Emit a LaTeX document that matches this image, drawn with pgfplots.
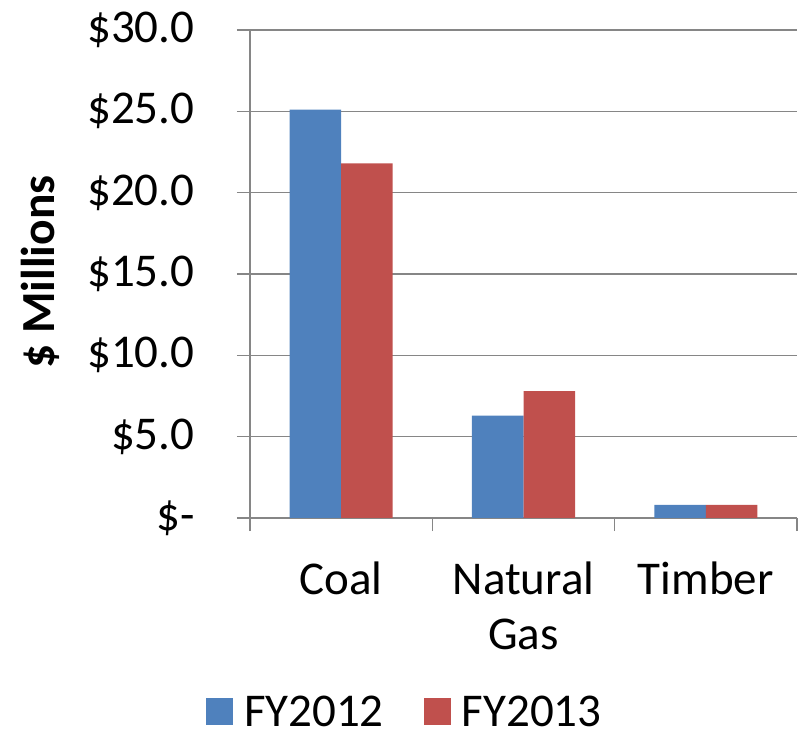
\documentclass[border=0pt]{standalone}
\usepackage{fontspec}
\setmainfont{Carlito}
\usepackage{pgfplots}
\pgfplotsset{compat=1.18}
\definecolor{fyblue}{HTML}{4F81BD}
\definecolor{fyred}{HTML}{C0504D}
\definecolor{gridgray}{HTML}{868686}
\begin{document}
\begin{tikzpicture}
\useasboundingbox (0,0) rectangle (802pt,738pt);
\begin{axis}[
  at={(250pt,220pt)}, anchor=south west,
  scale only axis, width=547pt, height=488pt,
  ybar=0pt, bar width=0.2825,
  xmin=-0.5, xmax=2.5, ymin=0, ymax=30,
  axis x line*=bottom, axis y line*=left,
  xtick={-0.5,0.5,1.5,2.5}, xticklabels={},
  extra x ticks={0,1,2},
  extra x tick labels={Coal,Natural\\Gas,Timber},
  extra x tick style={major tick length=0pt},
  ytick={0,5,10,15,20,25,30},
  yticklabels={\$-\hspace{21pt},\$5.0,\$10.0,\$15.0,\$20.0,\$25.0,\$30.0},
  tick align=outside, major tick length=13pt,
  ymajorgrids=true,
  axis line style={gridgray, line width=1.2pt},
  tick style={gridgray, line width=1.2pt},
  major grid style={gridgray, line width=1.2pt},
  yticklabel style={font=\fontsize{47pt}{56pt}\selectfont, anchor=east, xshift=-39pt},
  xticklabel style={font=\fontsize{47pt}{55pt}\selectfont, align=center, yshift=-40pt},
  ylabel={\textbf{\$ Millions}},
  ylabel style={font=\fontsize{47.5pt}{56pt}\selectfont, at={(axis description cs:-0.384,0.504)}, anchor=center},
  legend columns=2,
  legend style={draw=none, fill=none, inner sep=0pt, font=\fontsize{47pt}{55pt}\selectfont,
    at={(axis description cs:0.283,-0.396)}, anchor=center,
    nodes={text depth=0pt},
    /tikz/every even column/.append style={column sep=38pt}},
  legend image code/.code={\fill[#1] (0pt,-13.5pt) rectangle (27pt,13.5pt); \path (36pt,0pt);},
]
\addplot[fill=fyblue, draw=none] coordinates {(0,25.1) (1,6.3) (2,0.8)};
\addplot[fill=fyred, draw=none] coordinates {(0,21.8) (1,7.8) (2,0.8)};
\legend{FY2012,FY2013}
\end{axis}
\end{tikzpicture}
\end{document}
